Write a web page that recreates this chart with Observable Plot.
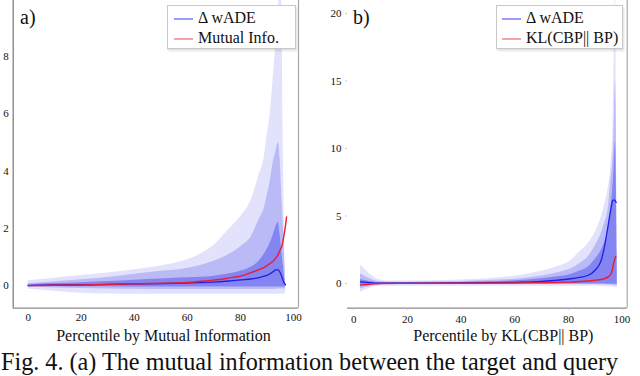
<!DOCTYPE html>
<html>
<head>
<meta charset="utf-8">
<script src="https://cdn.jsdelivr.net/npm/d3@7"></script>
<script src="https://cdn.jsdelivr.net/npm/@observablehq/plot@0.6"></script>
<style>
  html, body { margin: 0; padding: 0; background: #fff; }
  #wrap { position: relative; width: 640px; height: 376px; overflow: hidden; font-family: "Liberation Serif", "DejaVu Serif", serif; }
  .panel { position: absolute; top: 0; }
  .plab { position: absolute; font-size: 20px; line-height: 1; color: #111; }
  .legend { position: absolute; background: #fff; border: 1px solid #c8c8c8; box-shadow: 1px 2px 2px rgba(0,0,0,0.12); box-sizing: border-box; }
  .li { position: absolute; left: 0; height: 18px; font-size: 16px; line-height: 18px; white-space: nowrap; color: #111; }
  .li span.sw { position: absolute; top: 9px; height: 2px; }
  .li span.tx { position: absolute; }
  #cap { position: absolute; left: 1px; top: 350px; font-size: 24.2px; line-height: 1; white-space: nowrap; color: #111; letter-spacing: 0; }
</style>
</head>
<body>
<div id="wrap"></div>
<script>
// ---------- Panel (a): percentile by mutual information ----------
const xA       = [0, 10, 20, 30, 40, 50, 60, 65, 70, 76, 80, 84, 87, 89, 90, 91.3, 92.5, 93.2, 94.3, 95, 95.7, 96, 96.3, 97];
const outerHiA = [0.17, 0.26, 0.35, 0.44, 0.55, 0.68, 0.9, 1.1, 1.4, 2.0, 2.4, 2.97, 3.85, 4.5, 5.2, 6.05, 7.4, 8.2, 9.6, 10.5, 9.5, 6.05, 3.84, 0];
const outerLoA = [-0.12, -0.2, -0.27, -0.29, -0.3, -0.3, -0.3, -0.3, -0.3, -0.3, -0.3, -0.3, -0.3, -0.3, -0.3, -0.3, -0.3, -0.3, -0.3, -0.3, -0.3, -0.3, -0.3, -0.28];
const midHiA   = [0.06, 0.13, 0.2, 0.28, 0.4, 0.5, 0.6, 0.7, 0.85, 1.1, 1.35, 1.7, 2.3, 2.7, 3.1, 3.67, 4.37, 4.6, 5.0, 4.4, 3.0, 2.4, 1.8, 0];
const midLoA   = [-0.05, -0.08, -0.1, -0.12, -0.13, -0.14, -0.14, -0.14, -0.14, -0.14, -0.14, -0.14, -0.14, -0.14, -0.14, -0.14, -0.14, -0.13, -0.12, -0.12, -0.12, -0.12, -0.12, -0.12];
const innerHiA = [0.03, 0.07, 0.1, 0.14, 0.19, 0.23, 0.27, 0.29, 0.33, 0.41, 0.5, 0.64, 0.85, 1.1, 1.25, 1.5, 1.8, 2.0, 2.2, 1.75, 1.1, 0.85, 0.6, 0];
const innerLoA = [-0.02, -0.03, -0.04, -0.04, -0.05, -0.05, -0.05, -0.05, -0.05, -0.05, -0.05, -0.05, -0.05, -0.05, -0.05, -0.05, -0.05, -0.05, -0.05, -0.05, -0.05, -0.05, -0.05, -0.04];
const medA     = [0, 0.02, 0.03, 0.04, 0.06, 0.07, 0.09, 0.1, 0.12, 0.16, 0.2, 0.23, 0.28, 0.33, 0.36, 0.42, 0.5, 0.55, 0.55, 0.45, 0.29, 0.2, 0.13, 0.03];
const redXA    = [0, 10, 20, 30, 40, 50, 60, 65, 70, 76, 80, 84, 87, 89, 90, 91.3, 92.5, 93.2, 94.3, 95, 95.7, 96.3, 97, 97.4];
const redYA    = [0, 0.01, 0.02, 0.04, 0.06, 0.08, 0.11, 0.15, 0.19, 0.27, 0.33, 0.45, 0.56, 0.64, 0.7, 0.78, 0.87, 0.95, 1.1, 1.25, 1.4, 1.69, 2.1, 2.4];

// ---------- Panel (b): percentile by KL(CBP||BP) ----------
const xB       = [2.5, 4, 6, 8, 10, 12.5, 20, 30, 40, 50, 62, 70, 76, 81, 84, 87.2, 90, 92.2, 93.4, 94.7, 95.9, 96.5, 97, 97.5, 97.8, 98.2];
const outerHiB = [1.33, 1.1, 0.7, 0.4, 0.25, 0.18, 0.18, 0.2, 0.25, 0.35, 0.59, 0.9, 1.25, 1.7, 2.3, 2.9, 3.8, 4.9, 5.8, 6.9, 8.9, 11, 16, 22, 15, 0];
const outerLoB = [-0.64, -0.5, -0.35, -0.25, -0.2, -0.2, -0.2, -0.2, -0.2, -0.2, -0.2, -0.2, -0.2, -0.2, -0.2, -0.2, -0.2, -0.22, -0.24, -0.25, -0.26, -0.28, -0.3, -0.3, -0.3, -0.3];
const midHiB   = [0.72, 0.55, 0.35, 0.2, 0.12, 0.1, 0.1, 0.12, 0.15, 0.22, 0.35, 0.55, 0.8, 1.09, 1.45, 1.95, 2.8, 3.68, 4.4, 5.4, 7.8, 9.0, 11, 15, 12, 0];
const midLoB   = [-0.4, -0.3, -0.2, -0.12, -0.1, -0.08, -0.08, -0.08, -0.08, -0.08, -0.08, -0.08, -0.08, -0.08, -0.08, -0.08, -0.08, -0.1, -0.1, -0.12, -0.12, -0.12, -0.14, -0.14, -0.14, -0.14];
const innerHiB = [0.27, 0.22, 0.15, 0.08, 0.05, 0.05, 0.05, 0.06, 0.08, 0.12, 0.22, 0.35, 0.5, 0.67, 0.9, 1.2, 1.8, 2.44, 3.0, 3.9, 5.8, 6.9, 8.5, 10.5, 8, 0];
const innerLoB = [-0.15, -0.12, -0.07, -0.04, -0.03, -0.03, -0.03, -0.03, -0.03, -0.03, -0.03, -0.03, -0.03, -0.03, -0.03, -0.03, -0.03, -0.04, -0.04, -0.05, -0.05, -0.05, -0.06, -0.06, -0.06, -0.06];
const medB     = [0.12, 0.1, 0.06, 0.03, 0.02, 0.02, 0.02, 0.03, 0.04, 0.06, 0.1, 0.16, 0.24, 0.35, 0.45, 0.59, 1.0, 1.7, 2.7, 4.2, 5.6, 6.15, 6.2, 6.1, 6.0, null];
const redXB    = [2.5, 5, 8, 10, 20, 40, 60, 80, 88, 93.4, 95.9, 97.1, 97.6];
const redYB    = [-0.12, -0.07, -0.03, 0, 0.01, 0.02, 0.04, 0.1, 0.2, 0.35, 0.72, 1.7, 2.0];

// ---------- text ----------
const xTicks = [0, 20, 40, 60, 80, 100];
const yTicksA = [0, 2, 4, 6, 8];
const yTicksB = [0, 5, 10, 15, 20];
const xLabelA = "Percentile by Mutual Information";
const xLabelB = "Percentile by KL(CBP|| BP)";
const seriesA = ["\u0394 wADE", "Mutual Info."];
const seriesB = ["\u0394 wADE", "KL(CBP|| BP)"];
const caption = "Fig. 4. (a) The mutual information between the target and query";

const colOuter = "#e2e2fc", colMid = "#babaf7", colInner = "#8585f2";
const colMed = "#1f1fe8", colRed = "#ea1c2e";
const FONT = "Liberation Serif, DejaVu Serif, serif";

function rows(xs, cols) {
  return xs.map((x, i) => {
    const r = {x};
    for (const k in cols) r[k] = cols[k][i];
    return r;
  });
}

function panel(o) {
  const data = rows(o.x, {oh: o.oh, ol: o.ol, mh: o.mh, ml: o.ml, ih: o.ih, il: o.il, med: o.med});
  const red = rows(o.rx, {y: o.ry});
  const marks = [
    Plot.areaY(data, {x: "x", y1: "ol", y2: "oh", fill: colOuter, curve: "monotone-x", clip: true}),
    Plot.areaY(data, {x: "x", y1: "ml", y2: "mh", fill: colMid, curve: "monotone-x", clip: true}),
    Plot.areaY(data, {x: "x", y1: "il", y2: "ih", fill: colInner, curve: "monotone-x", clip: true}),
    Plot.lineY(data, {x: "x", y: "med", stroke: colMed, strokeWidth: 1.3, curve: "monotone-x", clip: true}),
    Plot.lineY(red, {x: "x", y: "y", stroke: colRed, strokeWidth: 1.4, curve: "monotone-x", clip: true}),
    Plot.ruleY([o.yd[0]], {stroke: "#8a8a8a", strokeWidth: 1.2}),
    Plot.ruleX([o.xd[1]], {stroke: "#a8a8a8", strokeWidth: 1.2}),
    Plot.axisX({ticks: xTicks, tickSize: o.xTickSize, tickPadding: 5, label: null, fontSize: 11, stroke: "#bbb", fill: "#111"}),
    Plot.axisY({ticks: o.yTicks, tickSize: o.yTickSize, tickPadding: o.yPad, label: null, fontSize: 11, stroke: "#ccc", fill: "#111"}),
    Plot.text([o.label], {text: d => d, frameAnchor: "bottom", dx: o.labelDx, dy: 33, fontSize: 16, fill: "#111"})
  ];
  if (o.leftRule) marks.push(Plot.ruleX([o.xd[0]], {stroke: "#777", strokeWidth: 1.2}));
  return Plot.plot({
    width: 320, height: 376,
    marginLeft: o.ml0, marginRight: o.mr0, marginTop: 0, marginBottom: 68.3,
    x: {domain: o.xd},
    y: {domain: o.yd},
    style: {fontFamily: FONT, background: "transparent", overflow: "visible"},
    marks
  });
}

const wrap = document.getElementById("wrap");

const pa = panel({
  x: xA, oh: outerHiA, ol: outerLoA, mh: midHiA, ml: midLoA, ih: innerHiA, il: innerLoA, med: medA,
  rx: redXA, ry: redYA, xd: [-5.65, 101.9], yd: [-0.79, 9.96],
  ml0: 12.7, mr0: 22, yTicks: yTicksA, yTickSize: 0, yPad: 4.5, xTickSize: 0,
  label: xLabelA, labelDx: 7.6, leftRule: true
});
pa.classList.add("panel"); pa.style.left = "0px";
wrap.appendChild(pa);

const pb = panel({
  x: xB, oh: outerHiB, ol: outerLoB, mh: midHiB, ml: midLoB, ih: innerHiB, il: innerLoB, med: medB,
  rx: redXB, ry: redYB, xd: [-2.35, 101.9], yd: [-1.83, 20.96],
  ml0: 27, mr0: 13.3, yTicks: yTicksB, yTickSize: 2, yPad: 4, xTickSize: 2,
  label: xLabelB, labelDx: 16, leftRule: false
});
pb.classList.add("panel"); pb.style.left = "320px";
wrap.appendChild(pb);

function addLabel(t, left, top) {
  const d = document.createElement("div");
  d.className = "plab"; d.textContent = t;
  d.style.left = left + "px"; d.style.top = top + "px";
  wrap.appendChild(d);
}
addLabel("a)", 20, 7);
addLabel("b)", 353, 7);

function addLegend(names, left, top, w, h, swLeft, txLeft) {
  const lg = document.createElement("div");
  lg.className = "legend";
  Object.assign(lg.style, {left: left + "px", top: top + "px", width: w + "px", height: h + "px"});
  const cols = ["#9c9cf6", "#f6a2aa"];
  names.forEach((n, i) => {
    const it = document.createElement("div");
    it.className = "li"; it.style.top = (3 + i * 20) + "px"; it.style.width = "100%";
    const sw = document.createElement("span");
    sw.className = "sw"; sw.style.left = swLeft + "px"; sw.style.width = "19px"; sw.style.background = cols[i];
    const tx = document.createElement("span");
    tx.className = "tx"; tx.style.left = txLeft + "px"; tx.textContent = n;
    it.appendChild(sw); it.appendChild(tx);
    lg.appendChild(it);
  });
  wrap.appendChild(lg);
}
addLegend(seriesA, 167, 5, 129, 44, 6, 30);
addLegend(seriesB, 496, 5, 127, 44, 5, 29);

const cap = document.createElement("div");
cap.id = "cap"; cap.textContent = caption;
wrap.appendChild(cap);
</script>
</body>
</html>
